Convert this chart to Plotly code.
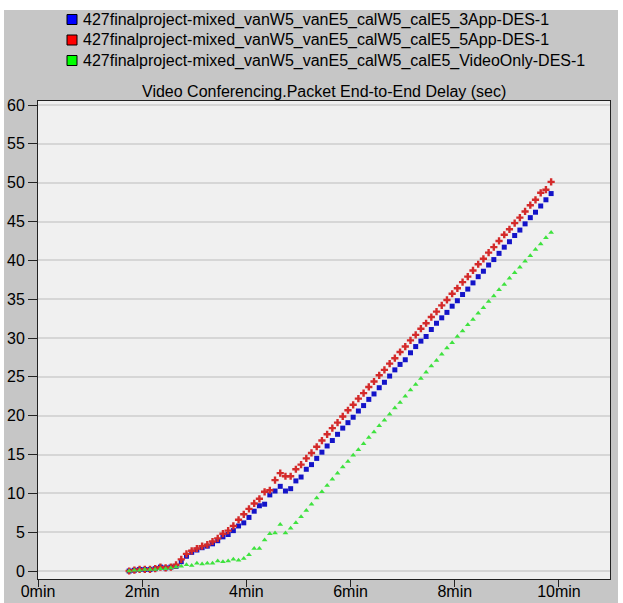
import plotly.graph_objects as go

# Simulation time (minutes) of each collected sample
times = [1.75, 1.85, 1.95, 2.05, 2.15, 2.25, 2.35, 2.45, 2.55, 2.65,
         2.75, 2.85, 2.95, 3.05, 3.15, 3.25, 3.35, 3.45, 3.55, 3.65,
         3.75, 3.85, 3.95, 4.05, 4.15, 4.25, 4.35, 4.45, 4.55, 4.65,
         4.75, 4.85, 4.95, 5.05, 5.15, 5.25, 5.35, 5.45, 5.55, 5.65,
         5.75, 5.85, 5.95, 6.05, 6.15, 6.25, 6.35, 6.45, 6.55, 6.65,
         6.75, 6.85, 6.95, 7.05, 7.15, 7.25, 7.35, 7.45, 7.55, 7.65,
         7.75, 7.85, 7.95, 8.05, 8.15, 8.25, 8.35, 8.45, 8.55, 8.65,
         8.75, 8.85, 8.95, 9.05, 9.15, 9.25, 9.35, 9.45, 9.55, 9.65,
         9.75, 9.85]

# Packet end-to-end delay (sec) per scenario
delay_3app = [0.0, 0.1, 0.2, 0.2, 0.2, 0.3, 0.5, 0.4, 0.5, 0.6,
              1.2, 1.9, 2.4, 2.7, 3.0, 3.2, 3.5, 3.9, 4.4, 4.7,
              5.2, 5.8, 6.2, 6.9, 7.7, 8.4, 8.6, 9.8, 10.3, 10.9,
              10.3, 10.6, 11.6, 12.1, 13.1, 13.7, 14.5, 15.3, 16.1, 16.8,
              17.6, 18.4, 19.1, 19.8, 20.6, 21.3, 22.1, 22.8, 23.6, 24.3,
              25.1, 25.9, 26.6, 27.2, 28.1, 28.9, 29.6, 30.2, 31.1, 31.9,
              32.6, 33.3, 34.1, 34.8, 35.6, 36.3, 37.1, 37.9, 38.6, 39.4,
              40.1, 40.9, 41.7, 42.4, 43.2, 43.9, 44.7, 45.5, 46.2, 47.0,
              47.8, 48.6]

delay_5app = [0.0, 0.1, 0.2, 0.2, 0.2, 0.3, 0.5, 0.4, 0.5, 0.8,
              1.5, 2.2, 2.6, 2.9, 3.2, 3.4, 3.8, 4.2, 4.8, 5.2,
              5.8, 6.6, 7.3, 8.0, 8.7, 9.3, 10.2, 10.4, 11.7, 12.6,
              12.2, 12.2, 13.1, 13.7, 14.5, 15.2, 16.0, 16.8, 17.6, 18.4,
              19.1, 19.9, 20.7, 21.4, 22.2, 22.9, 23.7, 24.4, 25.2, 25.9,
              26.7, 27.4, 28.2, 28.9, 29.7, 30.4, 31.2, 31.9, 32.7, 33.4,
              34.2, 34.9, 35.7, 36.4, 37.2, 37.9, 38.7, 39.5, 40.2, 41.0,
              41.7, 42.5, 43.3, 44.0, 44.8, 45.5, 46.3, 47.1, 47.8, 48.7,
              49.1, 50.1]

delay_video = [0.0, 0.1, 0.1, 0.2, 0.2, 0.2, 0.3, 0.3, 0.4, 0.5,
               0.6, 0.8, 0.7, 1.0, 0.9, 1.0, 1.0, 1.3, 1.2, 1.3,
               1.5, 1.4, 1.6, 2.1, 2.9, 2.9, 4.0, 4.8, 4.9, 6.0,
               4.9, 5.5, 6.2, 7.0, 7.8, 8.6, 9.4, 10.2, 11.0, 11.8,
               12.6, 13.4, 14.1, 14.9, 15.6, 16.4, 17.2, 17.9, 18.7, 19.4,
               20.2, 21.0, 21.7, 22.5, 23.3, 24.0, 24.8, 25.6, 26.4, 27.1,
               27.9, 28.7, 29.4, 30.2, 30.9, 31.7, 32.4, 33.2, 33.9, 34.7,
               35.4, 36.2, 36.9, 37.7, 38.4, 39.1, 39.9, 40.6, 41.4, 42.1,
               42.9, 43.6]

series_names = [
    "427finalproject-mixed_vanW5_vanE5_calW5_calE5_3App-DES-1",
    "427finalproject-mixed_vanW5_vanE5_calW5_calE5_5App-DES-1",
    "427finalproject-mixed_vanW5_vanE5_calW5_calE5_VideoOnly-DES-1",
]
swatch_colors = ["#0000ff", "#ff0000", "#00ff00"]

x_tick_vals = [0, 2, 4, 6, 8, 10]
x_tick_text = ["0min", "2min", "4min", "6min", "8min", "10min"]
y_tick_vals = [0, 5, 10, 15, 20, 25, 30, 35, 40, 45, 50, 55, 60]

chart_title = "Video Conferencing.Packet End-to-End Delay (sec)"

FONT = "Liberation Sans"
FS = 16
W, H = 623, 603
ML, MR, MT, MB = 38, 13, 101, 24

fig = go.Figure()

# Data points (markers only)
fig.add_trace(go.Scatter(x=times, y=delay_3app, mode="markers", name=series_names[0],
                         showlegend=False,
                         marker=dict(symbol="square", size=5, color="#1414c8")))
fig.add_trace(go.Scatter(x=times, y=delay_5app, mode="markers", name=series_names[1],
                         showlegend=False,
                         marker=dict(symbol="cross", size=6, color="#d42a2a")))
fig.add_trace(go.Scatter(x=times, y=delay_video, mode="markers", name=series_names[2],
                         showlegend=False,
                         marker=dict(symbol="triangle-up", size=5, color="#3ee23e")))

pw = W - ML - MR
ph = H - MT - MB


def px_x(p):
    return (p - ML) / pw


def px_y(p):
    return (H - MB - p) / ph


shapes = []
annotations = []

# White frame around the grey panel
for x0, y0, x1, y1 in [(0, 0, W, 10), (0, 0, 4, H), (W - 5, 0, W, H)]:
    shapes.append(dict(type="rect", xref="paper", yref="paper",
                       x0=px_x(x0), x1=px_x(x1), y0=px_y(y1), y1=px_y(y0),
                       fillcolor="white", line=dict(width=0), layer="above"))

# Series key above the chart: outlined colour square followed by the run name
key_rows = [19.5, 40, 60.5]
for name, col, yc in zip(series_names, swatch_colors, key_rows):
    shapes.append(dict(type="rect", xref="paper", yref="paper",
                       x0=px_x(67), x1=px_x(77), y0=px_y(yc + 5), y1=px_y(yc - 5),
                       fillcolor=col, line=dict(color="black", width=1),
                       layer="above"))
    annotations.append(dict(text=name, xref="paper", yref="paper",
                            x=px_x(81), y=px_y(yc), xanchor="left", yanchor="middle",
                            showarrow=False,
                            font=dict(family=FONT, size=FS, color="black")))

annotations.append(dict(text=chart_title, xref="paper", yref="paper",
                        x=0.5, y=px_y(92), xanchor="center", yanchor="middle",
                        showarrow=False,
                        font=dict(family=FONT, size=FS, color="black")))

fig.update_layout(
    width=W, height=H,
    margin=dict(l=ML, r=MR, t=MT, b=MB, autoexpand=False),
    paper_bgcolor="#c6c6c6",
    plot_bgcolor="#f0f0f0",
    font=dict(family=FONT, size=FS, color="black"),
    shapes=shapes,
    annotations=annotations,
    showlegend=False,
    xaxis=dict(range=[0, 10.98], tickvals=x_tick_vals, ticktext=x_tick_text,
               showgrid=False, zeroline=False, showline=True, mirror=True,
               linecolor="#222222", linewidth=1, ticks="outside", ticklen=7,
               ticklabelstandoff=-9,
               tickcolor="#222222", tickfont=dict(family=FONT, size=FS)),
    yaxis=dict(range=[-1.03, 60.52], tickvals=y_tick_vals,
               showgrid=True, gridcolor="#d6d6d6", gridwidth=2,
               zeroline=False, showline=True, mirror=True,
               linecolor="#222222", linewidth=1, ticks="outside", ticklen=9,
               tickcolor="#222222", tickfont=dict(family=FONT, size=FS)),
)

fig.write_html("out.html")
